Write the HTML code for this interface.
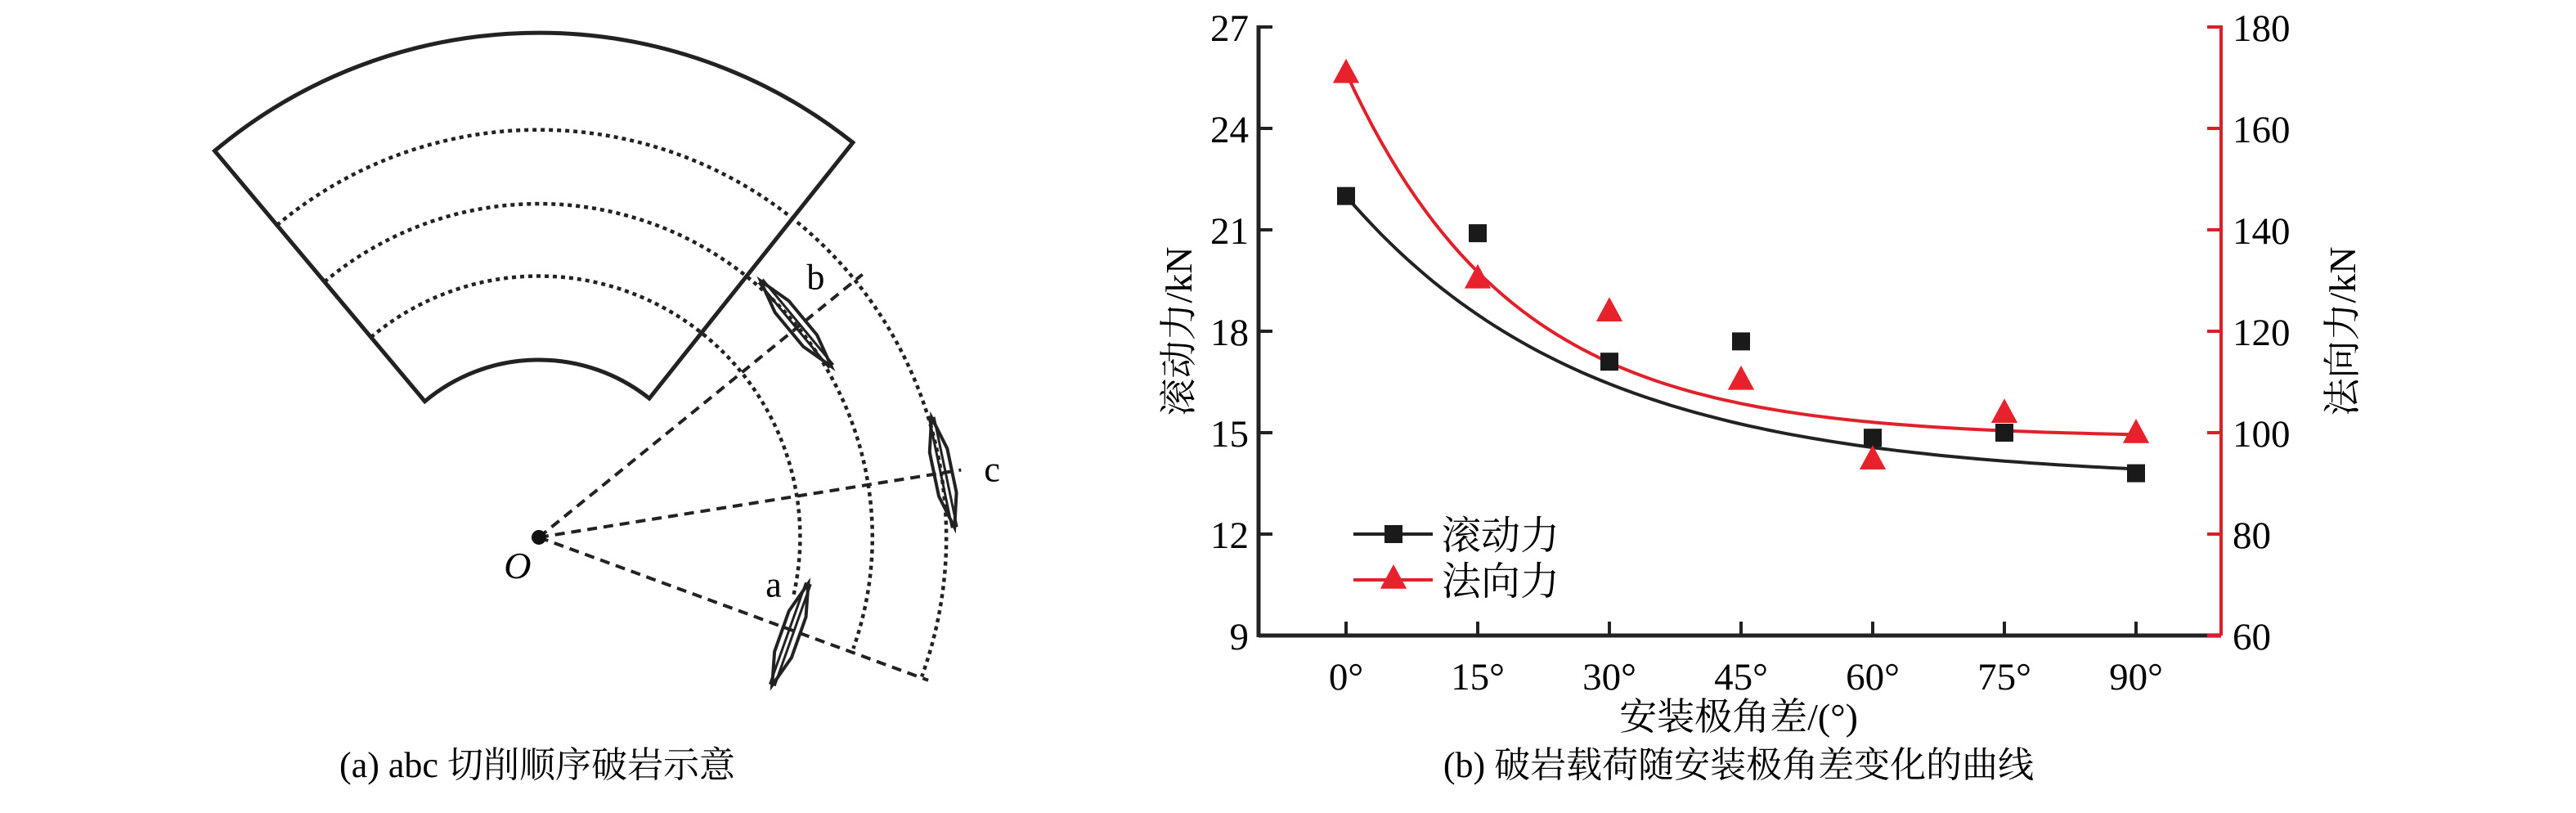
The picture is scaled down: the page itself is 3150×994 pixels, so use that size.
<!DOCTYPE html>
<html><head><meta charset="utf-8"><style>
html,body{margin:0;padding:0;background:#fff;}
svg{display:block;font-family:"Liberation Serif","Noto Serif CJK SC",serif;}
</style></head><body>
<svg width="3150" height="994" viewBox="0 0 3150 994" xmlns="http://www.w3.org/2000/svg">
<g id="diag"></g>
<text x="657" y="950" font-size="44" text-anchor="middle">(a) abc 切削顺序破岩示意</text>
<g id="chart"></g>
<text x="2126" y="950" font-size="44" text-anchor="middle">(b) 破岩载荷随安装极角差变化的曲线</text>
<script>
const angles = [0, 15, 30, 45, 60, 75, 90];
const xTickLabels = ['0°','15°','30°','45°','60°','75°','90°'];
const rollingForce = [22.0, 20.9, 17.1, 17.7, 14.85, 15.0, 13.8];
const normalForce = [171, 130.5, 124, 110.5, 94.8, 104, 100];
const leftTicks = [9, 12, 15, 18, 21, 24, 27];
const rightTicks = [60, 80, 100, 120, 140, 160, 180];
const rollingFit = [13.6, 8.4, 27.7];
const normalFit = [99, 72, 19];

const NS='http://www.w3.org/2000/svg';
function mk(parent, tag, attrs, text){const e=document.createElementNS(NS,tag);for(const k in attrs)e.setAttribute(k,attrs[k]);if(text!==undefined)e.textContent=text;parent.appendChild(e);return e;}

const C=document.getElementById('chart');
const L=1539,R=2716,T=33,B=777,X0=1646,X90=2612;
const xs=v=>X0+(v-0)/(90-0)*(X90-X0);
const yl=v=>B-(v-9)/(27-9)*(B-T);
const yr=v=>B-(v-60)/(180-60)*(B-T);

let e;
e=mk(C,'line',{x1:L,y1:T-2,x2:L,y2:B+2,stroke:'#222','stroke-width':5});


e=mk(C,'line',{x1:L,y1:B,x2:R,y2:B,stroke:'#222','stroke-width':5});


e=mk(C,'line',{x1:R,y1:T-2,x2:R,y2:B,stroke:'#d8202a','stroke-width':4});



leftTicks.forEach(v=>{
  e=mk(C,'line',{x1:L,y1:yl(v),x2:L+17,y2:yl(v),stroke:'#222','stroke-width':4});
  
  
  e=mk(C,'text',{x:L-12,y:yl(v)+17,'font-size':47,'text-anchor':'end'},String(v));
  
  
});
rightTicks.forEach(v=>{
  e=mk(C,'line',{x1:R-17,y1:yr(v),x2:R,y2:yr(v),stroke:'#d8202a','stroke-width':4});
  
  
  e=mk(C,'text',{x:R+14,y:yr(v)+17,'font-size':47,'text-anchor':'start'},String(v));
  
  
});
angles.forEach((a,i)=>{
  e=mk(C,'line',{x1:xs(a),y1:B,x2:xs(a),y2:B-17,stroke:'#222','stroke-width':4});
  
  
  e=mk(C,'text',{x:xs(a),y:B+66,'font-size':47,'text-anchor':'middle'},xTickLabels[i]);
  
  
});
e=mk(C,'text',{x:2126,y:892,'font-size':46,'text-anchor':'middle'},'安装极角差/(°)');


e=mk(C,'text',{x:0,y:0,'font-size':46,'text-anchor':'middle',transform:'translate(1457,405) rotate(-90)'},'滚动力/kN');


e=mk(C,'text',{x:0,y:0,'font-size':46,'text-anchor':'middle',transform:'translate(2880,405) rotate(-90)'},'法向力/kN');



function fitPath(p,ys){let d='';for(let a=0;a<=90;a+=1){const v=p[0]+p[1]*Math.exp(-a/p[2]);d+=(a?'L':'M')+xs(a).toFixed(1)+','+ys(v).toFixed(1);}return d;}
e=mk(C,'path',{d:fitPath(rollingFit,yl),fill:'none',stroke:'#222','stroke-width':4});


e=mk(C,'path',{d:fitPath(normalFit,yr),fill:'none',stroke:'#e0202a','stroke-width':4});



function tri(cx,cy,s){return `${cx},${cy-s} ${cx-s*0.95},${cy+s*0.75} ${cx+s*0.95},${cy+s*0.75}`;}
angles.forEach((a,i)=>{
  e=mk(C,'rect',{x:xs(a)-11,y:yl(rollingForce[i])-11,width:22,height:22,fill:'#1a1a1a'});
  
  
  e=mk(C,'polygon',{points:tri(xs(a),yr(normalForce[i]),17),fill:'#e8222c'});
  
  
});
e=mk(C,'line',{x1:1655,y1:653,x2:1752,y2:653,stroke:'#222','stroke-width':4});


e=mk(C,'rect',{x:1693,y:642,width:22,height:22,fill:'#1a1a1a'});


e=mk(C,'text',{x:1763,y:671,'font-size':48},'滚动力');


e=mk(C,'line',{x1:1655,y1:709,x2:1752,y2:709,stroke:'#e0202a','stroke-width':4});


e=mk(C,'polygon',{points:tri(1704,707,17),fill:'#e8222c'});


e=mk(C,'text',{x:1763,y:727,'font-size':48},'法向力');



const D=document.getElementById('diag');
const s=2.009, Ox=328*s, Oy=327*s;
function pt(r,deg){const t=deg*Math.PI/180;return [Ox+r*Math.cos(t),Oy-r*Math.sin(t)];}
function arc(r,a1,a2){const p1=pt(r,a1),p2=pt(r,a2);return `M${p1[0]},${p1[1]} A${r},${r} 0 0 1 ${p2[0]},${p2[1]}`;}
const Ro=307*s, Ri=108*s, aL=130, aR=51.5;
const o1=pt(Ro,aL),o2=pt(Ro,aR),i1=pt(Ri,aL),i2=pt(Ri,aR);
e=mk(D,'path',{d:`M${i1[0]},${i1[1]} L${o1[0]},${o1[1]} A${Ro},${Ro} 0 0 1 ${o2[0]},${o2[1]} L${i2[0]},${i2[1]} A${Ri},${Ri} 0 0 0 ${i1[0]},${i1[1]} Z`,fill:'none',stroke:'#222','stroke-width':5});


[[159,-13],[203,-19.5],[248,-20]].forEach(([r,end])=>{
  e=mk(D,'path',{d:arc(r*s,aL,end),fill:'none',stroke:'#222','stroke-width':4.5,'stroke-dasharray':'5 5'});
  
  
});
[[525,167],[585,286],[565,414]].forEach(([x,y])=>{
  e=mk(D,'line',{x1:Ox,y1:Oy,x2:x*s,y2:y*s,stroke:'#222','stroke-width':4,'stroke-dasharray':'12 8'});
  
  
});
e=mk(D,'circle',{cx:Ox,cy:Oy,r:9,fill:'#111'});


function blade(x1,y1,x2,y2){
  x1*=s;y1*=s;x2*=s;y2*=s;const dx=x2-x1,dy=y2-y1,len=Math.hypot(dx,dy),nx=-dy/len,ny=dx/len,w=11;
  const P=(t,o)=>[x1+dx*t+nx*o,y1+dy*t+ny*o];
  const pts=[P(0,0),P(0.3,w),P(0.7,w),P(1,0),P(0.7,-w),P(0.3,-w)];
  const g=mk(D,'g',{});
  mk(g,'polygon',{points:pts.map(p=>p.join(',')).join(' '),fill:'none',stroke:'#222','stroke-width':4});
  const a=P(0,3),b=P(1,3),c=P(0,-3),d=P(1,-3);
  mk(g,'line',{x1:a[0],y1:a[1],x2:b[0],y2:b[1],stroke:'#222','stroke-width':3});
  mk(g,'line',{x1:c[0],y1:c[1],x2:d[0],y2:d[1],stroke:'#222','stroke-width':3});
  return g;
}
e=blade(492,355,470,417);


e=blade(463,171,506,223);


e=blade(567,254,581,321);


[['a',466*s,363*s,'label-a'],['b',491*s,176*s,'label-b'],['c',599*s,293*s,'label-c']].forEach(([t,x,y,n])=>{
  e=mk(D,'text',{x:x,y:y,'font-size':44},t);
  
  
});
e=mk(D,'text',{x:315*s,y:352*s,'font-size':46,'font-style':'italic','text-anchor':'middle'},'O');


</script>
</svg>
</body></html>
